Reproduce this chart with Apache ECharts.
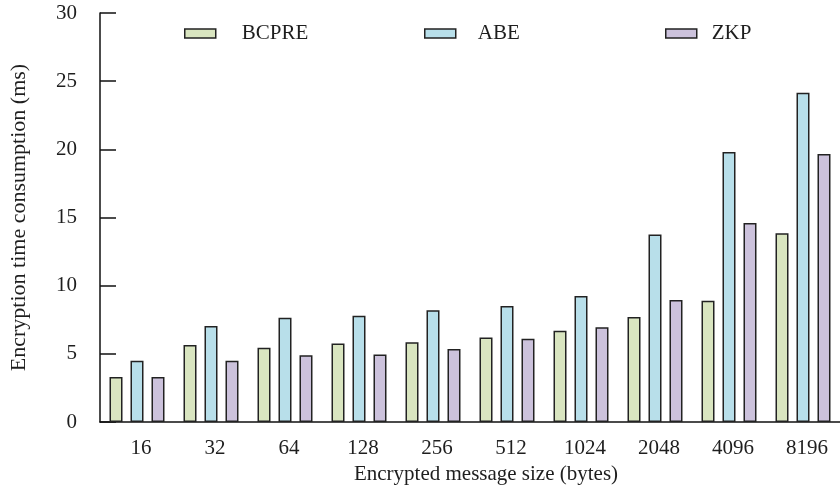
<!DOCTYPE html>
<html>
<head>
<meta charset="utf-8">
<script src="https://cdn.jsdelivr.net/npm/echarts@6/dist/echarts.min.js"></script>
<style>html,body{margin:0;padding:0;background:#fff}#c{width:840px;height:490px}</style>
</head>
<body>
<div id="c"></div>
<script>
const categories = ['16','32','64','128','256','512','1024','2048','4096','8196'];
const bcpre = [3.3, 5.65, 5.45, 5.75, 5.85, 6.2, 6.7, 7.7, 8.9, 13.85];
const abe   = [4.5, 7.05, 7.65, 7.8, 8.2, 8.5, 9.25, 13.75, 19.8, 24.15];
const zkp   = [3.3, 4.5, 4.9, 4.95, 5.35, 6.1, 6.95, 8.95, 14.6, 19.65];
const seriesNames = ['BCPRE','ABE','ZKP'];
const yTicks = [0,5,10,15,20,25,30];

const colors = ['#d9e5c0','#b8dfea','#ccc2dc'];
const FONT = '"Liberation Serif","Times New Roman",serif';
const TXT = '#1e1e1e';
const border = {borderColor:'#222', borderWidth:1.5};

function legendAt(name, left, pad, color){
  return {
    data:[name], left:left, top:18, itemWidth:31, itemHeight:9, itemGap:0,
    icon:'rect',
    itemStyle:Object.assign({color:color}, border),
    textStyle:{fontFamily:FONT, fontSize:21, color:TXT, padding:[0,0,0,pad]}
  };
}

const chart = echarts.init(document.getElementById('c'));
chart.setOption({
  animation:false,
  backgroundColor:'#fff',
  textStyle:{fontFamily:FONT},
  legend:[
    legendAt(seriesNames[0], 179, 21, colors[0]),
    legendAt(seriesNames[1], 419, 17, colors[1]),
    legendAt(seriesNames[2], 660, 10, colors[2])
  ],
  grid:{left:100, top:13, width:748, bottom:68, containLabel:false},
  xAxis:{
    type:'category', data:categories,
    name:'Encrypted message size (bytes)', nameLocation:'middle', nameGap:42,
    nameTextStyle:{fontFamily:FONT, fontSize:21, color:TXT, padding:[0,0,0,32]},
    axisLine:{lineStyle:{color:'#111', width:1.5}},
    axisTick:{inside:true, length:10, lineStyle:{color:'#111', width:1.5}},
    axisLabel:{fontFamily:FONT, fontSize:21, color:TXT, margin:16, padding:[0,0,0,8]},
    splitLine:{show:false}
  },
  yAxis:{
    type:'value', min:yTicks[0], max:yTicks[yTicks.length-1], interval:5,
    name:'Encryption time consumption (ms)', nameLocation:'middle', nameGap:70,
    nameTextStyle:{fontFamily:FONT, fontSize:22, color:TXT},
    axisLine:{show:true, lineStyle:{color:'#111', width:1.5}},
    axisTick:{show:true, inside:true, length:16, lineStyle:{color:'#111', width:1.5}},
    axisLabel:{fontFamily:FONT, fontSize:21, color:TXT, margin:23},
    splitLine:{show:false}
  },
  series:[
    {name:seriesNames[0], type:'bar', data:bcpre, barWidth:13, barGap:'61.5%', itemStyle:Object.assign({color:colors[0]}, border)},
    {name:seriesNames[1], type:'bar', data:abe, barWidth:13, barGap:'61.5%', itemStyle:Object.assign({color:colors[1]}, border)},
    {name:seriesNames[2], type:'bar', data:zkp, barWidth:13, barGap:'61.5%', itemStyle:Object.assign({color:colors[2]}, border)}
  ]
});
</script>
</body>
</html>
